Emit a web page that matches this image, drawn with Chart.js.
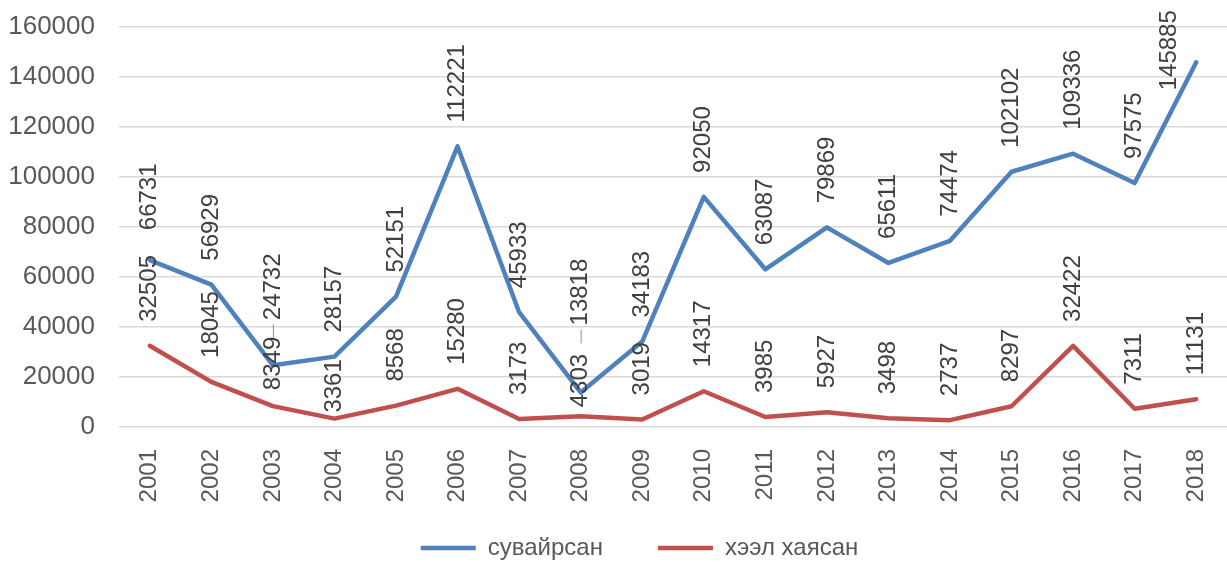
<!DOCTYPE html>
<html><head><meta charset="utf-8">
<style>html,body{margin:0;padding:0;background:#fff;}#wrap{width:1227px;height:563px;}</style>
<script src="https://cdn.jsdelivr.net/npm/chart.js@4"></script>
</head><body><div id="wrap"><canvas id="c" width="1227" height="563"></canvas></div>
<script>
const categories = ['2001','2002','2003','2004','2005','2006','2007','2008','2009','2010','2011','2012','2013','2014','2015','2016','2017','2018'];
const seriesNames = ['сувайрсан', 'хээл хаясан'];
const suvairsan = [66731, 56929, 24732, 28157, 52151, 112221, 45933, 13818, 34183, 92050, 63087, 79869, 65611, 74474, 102102, 109336, 97575, 145885];
const kheelKhayasan = [32505, 18045, 8349, 3361, 8568, 15280, 3173, 4303, 3019, 14317, 3985, 5927, 3498, 2737, 8297, 32422, 7311, 11131];
const yTickValues = [0, 20000, 40000, 60000, 80000, 100000, 120000, 140000, 160000];

const FONT = "'Liberation Sans', Arial, sans-serif";
const LEGEND_PAD = 55;
const LEGEND_FONT = 24;

// label placement style tweaks (dataset index -> point index -> [dx, dy])
const labelNudge = {0: {0: [0, -6], 2: [0, -21], 7: [0, -43], 17: [-27, 52]}, 1: {2: [0, 8], 3: [0, 18], 7: [0, 15]}};
const leaderLines = {0: [2, 7]};

const dataLabels = {
  id: 'dataLabels',
  afterDatasetsDraw(chart) {
    const ctx = chart.ctx;
    ctx.save();
    ctx.font = '24px ' + FONT;
    ctx.fillStyle = '#404040';
    chart.data.datasets.forEach((ds, di) => {
      const meta = chart.getDatasetMeta(di);
      meta.data.forEach((pt, i) => {
        const nd = (labelNudge[di] && labelNudge[di][i]) || [0, 0];
        const x = pt.x + nd[0];
        const yStart = pt.y - 24 + nd[1];
        ctx.save();
        ctx.translate(x, yStart);
        ctx.rotate(-Math.PI / 2);
        ctx.textAlign = 'left';
        ctx.textBaseline = 'middle';
        ctx.fillText(String(ds.data[i]), 0, 0);
        ctx.restore();
        if (leaderLines[di] && leaderLines[di].includes(i)) {
          ctx.save();
          ctx.strokeStyle = '#8c8c8c';
          ctx.lineWidth = 1;
          ctx.beginPath();
          ctx.moveTo(pt.x + 0.5, yStart + 4);
          ctx.lineTo(pt.x + 0.5, yStart + 18);
          ctx.stroke();
          ctx.restore();
        }
      });
    });
    ctx.restore();
  }
};

const legendPlace = {
  id: 'legendPlace',
  afterLayout(chart) {
    const l = chart.legend;
    l.top = 548 - LEGEND_PAD - LEGEND_FONT / 2;
    l.bottom = 563;
    l.left += 26;
    l.right += 26;
  }
};

const ds = (label, data, color) => ({
  label, data,
  borderColor: color, backgroundColor: color,
  borderWidth: 4.5, pointRadius: 0, pointHoverRadius: 0,
  tension: 0, fill: false,
  borderJoinStyle: 'round', borderCapStyle: 'round'
});

new Chart(document.getElementById('c'), {
  type: 'line',
  data: {
    labels: categories,
    datasets: [
      ds(seriesNames[0], suvairsan, '#4f81bd'),
      ds(seriesNames[1], kheelKhayasan, '#c0504d')
    ]
  },
  options: {
    responsive: false,
    animation: false,
    devicePixelRatio: 1,
    layout: {padding: {top: 27, right: 0, bottom: 0, left: 0}},
    plugins: {
      legend: {
        position: 'bottom',
        maxHeight: 30,
        labels: {
          usePointStyle: true, pointStyle: 'line', pointStyleWidth: 55,
          padding: LEGEND_PAD, color: '#595959',
          font: {family: FONT, size: LEGEND_FONT}
        }
      },
      tooltip: {enabled: false}
    },
    scales: {
      x: {
        offset: true,
        grid: {display: false},
        border: {display: false},
        ticks: {minRotation: 90, maxRotation: 90, padding: 14, color: '#595959', font: {family: FONT, size: 24}, autoSkip: false},
        afterFit(s) { s.height = 106; s.paddingLeft = 0; s.paddingRight = 0; }
      },
      y: {
        min: 0, max: 160000,
        afterBuildTicks(s) { s.ticks = yTickValues.map(v => ({value: v})); },
        grid: {color: '#d9d9d9', lineWidth: 1.5, drawTicks: false},
        border: {display: false},
        ticks: {padding: 24, color: '#595959', font: {family: FONT, size: 26}, callback: v => String(v)},
        afterFit(s) { s.width = 119; s.paddingTop = 0; s.paddingBottom = 0; }
      }
    }
  },
  plugins: [dataLabels, legendPlace]
});
</script>
</body></html>
